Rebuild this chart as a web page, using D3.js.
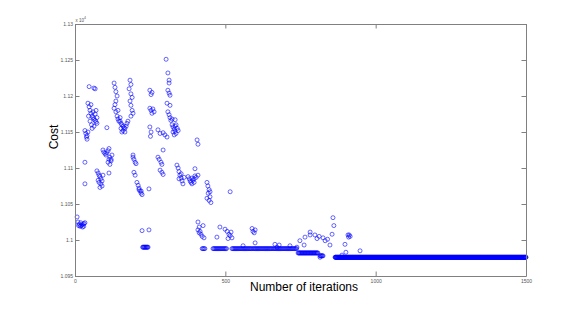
<!DOCTYPE html>
<html>
<head>
<meta charset="utf-8">
<script src="https://cdn.jsdelivr.net/npm/d3@7"></script>
<style>
  html, body { margin: 0; padding: 0; background: #fff; }
  svg { display: block; font-family: "Liberation Sans", Arial, sans-serif; }
</style>
</head>
<body>
<svg id="chart" width="581" height="311"></svg>
<script>
// ---- DATA (cost values) ----
const xTickValues = [0, 500, 1000, 1500];
const xTickLabels = ["0", "500", "1000", "1500"];
const yTickValues = [10950, 11000, 11050, 11100, 11150, 11200, 11250, 11300];
const yTickLabels = ["1.095", "1.1", "1.105", "1.11", "1.115", "1.12", "1.125", "1.13"];

// individual scattered points: [iteration, cost]
const scatterPoints = [
  [7,11032],[10,11025],[14,11022],[17,11019],[20,11020],[23,11021],[27,11022],[30,11023],[33,11024],
  [12,11020],[25,11018],[19,11024],[29,11019],
  [33,11108],[33,11078],
  [33,11152],[36,11148],[40,11145],[43,11150],[40,11140],[38,11143],
  [47,11213],[63,11211],[67,11210],
  [43,11190],[47,11185],[50,11180],[53,11176],[57,11172],[60,11170],[63,11168],[67,11166],[70,11164],
  [73,11170],[60,11178],[55,11160],[50,11165],[67,11175],[70,11180],[45,11172],[63,11158],[57,11155],
  [73,11162],[53,11188],
  [106,11156],
  [73,11096],[77,11093],[80,11090],[83,11088],[86,11085],[90,11082],[80,11080],[86,11078],[90,11075],
  [77,11083],[93,11090],[83,11073],
  [93,11125],[96,11122],[100,11120],[103,11118],[106,11121],[110,11124],[113,11127],[116,11115],
  [120,11112],[110,11108],[116,11105],[120,11110],[123,11118],[113,11112],
  [113,11093],
  [130,11218],[133,11212],[136,11206],[140,11200],[136,11193],[133,11188],[130,11183],[136,11178],
  [140,11172],[143,11168],[146,11165],[143,11180],[150,11170],
  [183,11222],[186,11216],[180,11210],[186,11203],[190,11198],[183,11193],[186,11187],[190,11180],
  [193,11176],[186,11172],
  [150,11165],[153,11162],[156,11160],[160,11158],[163,11156],[166,11155],[170,11158],[173,11162],
  [160,11152],[156,11150],[166,11150],[153,11155],[176,11165],
  [193,11115],[193,11118],[196,11112],[200,11108],[203,11106],
  [196,11094],[200,11090],
  [206,11080],[210,11076],[213,11072],[216,11068],[220,11065],[223,11063],[213,11070],[220,11068],
  [246,11071],
  [223,11013],[246,11014],
  [249,11208],[253,11202],[256,11205],
  [249,11183],[253,11180],[256,11176],[259,11182],[263,11178],
  [249,11157],[253,11150],[251,11144],
  [276,11153],[283,11148],
  [276,11115],[280,11112],[286,11108],[289,11105],
  [283,11097],[289,11094],[293,11091],
  [293,11125],
  [303,11251],[309,11232],[313,11222],[313,11218],[309,11208],[313,11204],[316,11201],[306,11190],[316,11187],
  [309,11178],[313,11174],[316,11170],[319,11166],[323,11168],
  [293,11149],[299,11146],[306,11143],
  [323,11160],[326,11157],[330,11154],[333,11151],[336,11148],[340,11155],[326,11150],[333,11158],
  [330,11146],[336,11160],[343,11152],
  [333,11167],
  [339,11104],[343,11100],[346,11095],[349,11090],[353,11086],[356,11082],[359,11078],[346,11085],
  [353,11092],[363,11087],
  [376,11088],[380,11085],[383,11082],[386,11080],[389,11086],[392,11083],[396,11085],[399,11089],
  [403,11087],[409,11090],[389,11078],[396,11080],
  [406,11139],[409,11133],
  [409,11014],[399,11099],
  [439,11080],[442,11075],[446,11070],[443,11065],[449,11060],[446,11055],[452,11052],[439,11058],[449,11067],
  [409,11025],[413,11018],[416,11012],[419,11008],[423,11005],[426,11020],[429,11003],[413,11010],
  [482,11018],[472,11004],
  [499,11015],[506,11012],[512,11008],[516,11006],[519,11011],[522,11003],[509,11002],
  [516,11067],
  [559,10992],
  [589,11016],[592,11012],[596,11010],[599,11014],
  [599,10996],
  [665,10994],[672,10990],[679,10993],
  [715,10992],[738,10990],
  [748,10999],[762,10993],[765,11004],[782,11011],[782,11007],[798,11007],[805,11002],[812,11005],
  [825,11003],[832,10999],[840,11001],[848,10993],[855,11008],[858,11031],[861,11020],
  [898,10994],[908,11007],[912,11007],[915,11005],[910,11004],
  [888,10979],[901,10983],[948,10985],[815,10976]
];

// flat runs seen as bands: [firstIteration, lastIteration, cost, every n-th iteration]
const flatRuns = [
  [225,243,10990,2],
  [423,432,10988,3],
  [459,506,10988,3],
  [522,589,10988,3],
  [592,655,10988,3],
  [659,738,10988,3],
  [742,808,10982,2],
  [815,825,10978,2],
  [865,1500,10976,1]
];

// ---- CHART ----
const svg = d3.select("#chart");
const x = d3.scaleLinear().domain([0, 1500]).range([75, 526]);
const y = d3.scaleLinear().domain([10950, 11300]).range([276, 24]);

const points = scatterPoints.slice();
flatRuns.forEach(([a, b, c, s]) => {
  d3.range(a, b + 1, s).forEach(i => points.push([i, c]));
});

svg.append("g")
  .selectAll("circle")
  .data(points)
  .join("circle")
  .attr("cx", d => x(d[0]))
  .attr("cy", d => y(d[1]))
  .attr("r", 2)
  .attr("fill", "none")
  .attr("stroke", "#0000ff")
  .attr("stroke-width", 0.6);

const axisColor = "#808080";
function styleAxis(g) {
  g.select(".domain").attr("stroke", axisColor).attr("stroke-width", 1);
  g.selectAll(".tick line").attr("stroke", axisColor);
  g.selectAll(".tick text").attr("fill", "#555").style("font-size", "5px")
    .style("font-family", "'Liberation Sans', Arial, sans-serif");
}

svg.append("g")
  .attr("transform", "translate(0,276)")
  .call(d3.axisBottom(x).tickValues(xTickValues).tickSizeInner(-4.5).tickSizeOuter(0).tickPadding(3)
    .tickFormat((d, i) => xTickLabels[i]))
  .call(styleAxis);

svg.append("g")
  .attr("transform", "translate(0,24)")
  .call(d3.axisTop(x).tickValues(xTickValues).tickSizeInner(-4.5).tickSizeOuter(0).tickFormat(""))
  .call(styleAxis);

svg.append("g")
  .attr("transform", "translate(75,0)")
  .call(d3.axisLeft(y).tickValues(yTickValues).tickSizeInner(-4.5).tickSizeOuter(0).tickPadding(2)
    .tickFormat((d, i) => yTickLabels[i]))
  .call(styleAxis);

svg.append("g")
  .attr("transform", "translate(526,0)")
  .call(d3.axisRight(y).tickValues(yTickValues).tickSizeInner(-4.5).tickSizeOuter(0).tickFormat(""))
  .call(styleAxis);

// exponent label
const ex = svg.append("text").attr("x", 75.5).attr("y", 21.5)
  .attr("fill", "#555").style("font-size", "4.5px");
ex.append("tspan").text("x 10");
ex.append("tspan").attr("dy", -2.5).style("font-size", "3.5px").text("4");

// axis titles
svg.append("text")
  .attr("x", 304).attr("y", 291)
  .attr("text-anchor", "middle")
  .style("font-size", "12px")
  .attr("fill", "#000")
  .text("Number of iterations");

svg.append("text")
  .attr("transform", "translate(57.5,137) rotate(-90)")
  .attr("text-anchor", "middle")
  .style("font-size", "12px")
  .attr("fill", "#000")
  .text("Cost");
</script>
</body>
</html>
